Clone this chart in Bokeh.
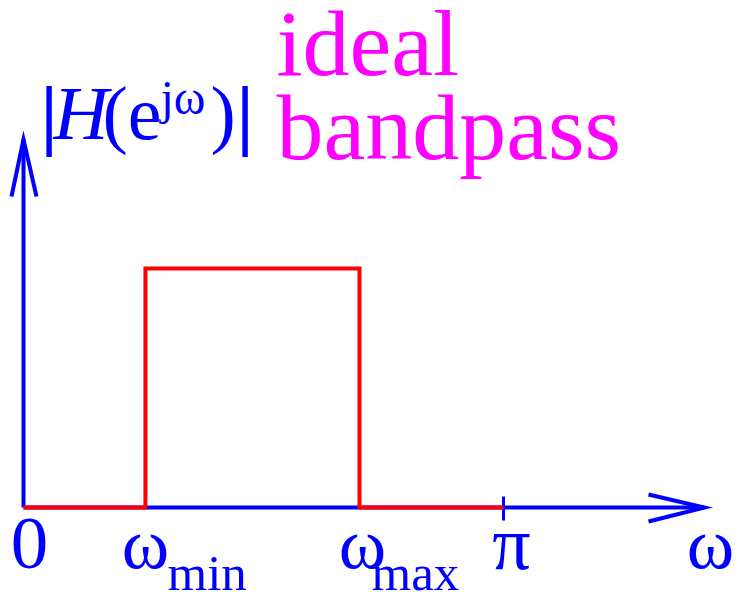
from bokeh.plotting import figure
from bokeh.models import Range1d, Label
from bokeh.embed import file_html
from bokeh.resources import INLINE

# Ideal bandpass magnitude response, frequencies in units of pi
band_edges = [0.254, 0.7]          # omega_min, omega_max
nyquist = 1.0                       # pi
pass_gain = 1.0
stop_gain = 0.0

BLUE = "#0000ff"
RED = "#ff0000"
MAGENTA = "#ff00ff"
SERIF = "Liberation Serif"

W, H = 738, 596
# pixel layout of the drawing: origin and scale of the axes
PX0, PY0 = 23, 507
SX, SY = 480.0, 239.0


def X(px):
    return (px - PX0) / SX


def Y(py):
    return (PY0 - py) / SY


p = figure(width=W, height=H, output_backend="svg", toolbar_location=None,
           x_range=Range1d(X(0), X(W)), y_range=Range1d(Y(H), Y(0)),
           x_axis_location=None, y_axis_location=None, min_border=0)
p.grid.visible = False
p.outline_line_color = None
p.background_fill_color = "white"
p.border_fill_color = "white"

lw = 4

# axes with open arrow heads
x_end = X(704)
y_end = Y(139)
p.line([0, x_end], [0, 0], line_color=BLUE, line_width=lw)
p.line([0, 0], [0, y_end], line_color=BLUE, line_width=lw)
p.line([X(648), x_end, X(648)], [Y(494), 0, Y(521)], line_color=BLUE,
       line_width=lw, line_join="miter")
p.line([X(11), 0, X(36)], [Y(196), y_end, Y(196)], line_color=BLUE,
       line_width=lw, line_join="miter")
# tick at pi
p.line([nyquist, nyquist], [Y(496), Y(520)], line_color=BLUE, line_width=3)

# response
lo, hi = band_edges
xs = [0, lo, lo, hi, hi, nyquist]
ys = [stop_gain, stop_gain, pass_gain, pass_gain, stop_gain, stop_gain]
p.line(xs, ys, line_color=RED, line_width=lw, line_join="miter")


def label(x, py, text, size, color=BLUE, align="center", style="normal"):
    # py is the baseline in pixels from the top
    p.add_layout(Label(x=x, y=Y(py - 0.35 * size), text=text, text_font=SERIF,
                       text_font_size=f"{size}px", text_color=color,
                       text_align=align, text_baseline="alphabetic",
                       text_font_style=style))


base = 569
sub_base = 590
label(X(29), base, "0", 75)
label(lo + X(145) - X(145), base, "ω", 72)
label(X(167), sub_base, "min", 51, align="left")
label(hi + X(362) - X(359), base, "ω", 72)
label(X(371), sub_base, "max", 51, align="left")
label(nyquist + X(511) - X(503), base, "π", 76)
label(X(710), base, "ω", 72)

# |H(e^{jω})|
label(X(40), 140, "|", 78, align="left", style="bold")
label(X(53), 139, "H", 76, align="left", style="italic")
label(X(102), 139, "(e", 76, align="left")
label(X(160), 114, "jω", 48, align="left")
label(X(210), 139, ")", 76, align="left")
label(X(236), 140, "|", 78, align="left", style="bold")

label(X(276), 75, "ideal", 94, color=MAGENTA, align="left")
label(X(276), 159, "bandpass", 94, color=MAGENTA, align="left")

open("out.html", "w").write(file_html(p, INLINE))
